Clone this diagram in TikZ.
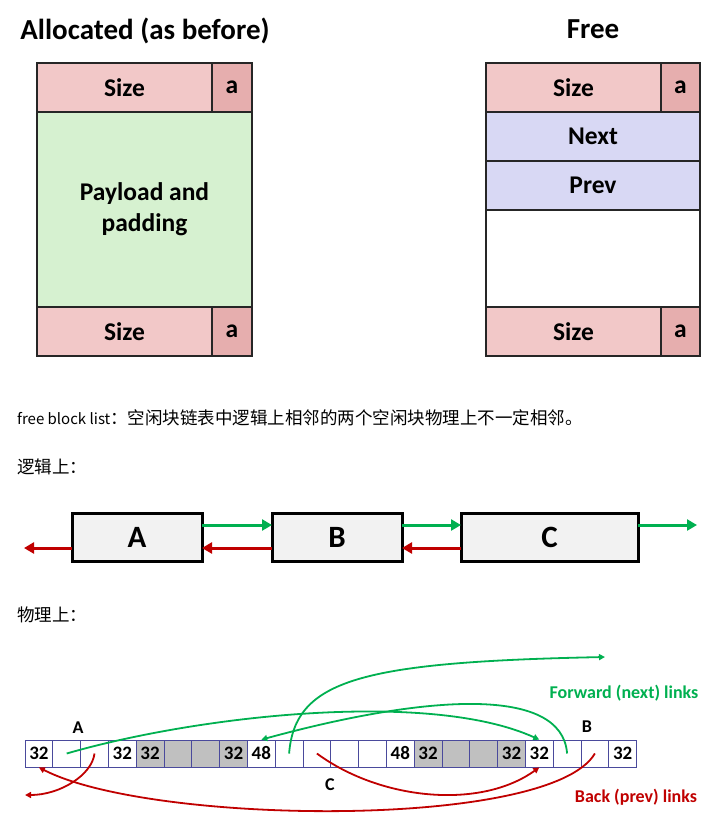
\documentclass[tikz,border=0pt]{standalone}
\usepackage{fontspec}
\setmainfont{Carlito}
\newfontfamily\cjk{Noto Sans CJK SC}
\usepackage{tikz}
\usetikzlibrary{arrows.meta,positioning}
\definecolor{blkline}{HTML}{262626}
\definecolor{sizebg}{HTML}{F2C8C8}
\definecolor{abitbg}{HTML}{E6AEAE}
\definecolor{paybg}{HTML}{D6F1D0}
\definecolor{ptrbg}{HTML}{D8D8F4}
\definecolor{listbg}{HTML}{F2F2F2}
\definecolor{cellline}{HTML}{4A4A9C}
\definecolor{usedbg}{HTML}{C0C0C0}
\definecolor{fwd}{HTML}{00B050}
\definecolor{bck}{HTML}{C00000}
\newcommand{\hanzi}[1]{{\fontsize{17.5}{20}\selectfont #1}}
\tikzset{
  field/.style  = {rectangle, draw=blkline, line width=1.2pt, inner sep=0pt, outer sep=0pt,
                   align=center, font=\fontsize{25.5}{31}\selectfont\bfseries},
  sizef/.style  = {field, fill=sizebg, minimum height=49pt},
  abit/.style   = {field, fill=abitbg, minimum height=49pt},
  ptrf/.style   = {field, fill=ptrbg, minimum height=49pt, minimum width=214pt},
  title/.style  = {font=\fontsize{29}{32}\selectfont\bfseries},
  note/.style   = {anchor=west, font=\cjk\fontsize{15}{19}\selectfont, inner sep=0pt},
  lblock/.style = {rectangle, draw=black, line width=3pt, outer sep=0pt, fill=listbg,
                   minimum height=48pt, font=\fontsize{31}{34}\selectfont\bfseries},
  cell/.style   = {rectangle, draw=cellline, line width=0.7pt, minimum width=27.8pt,
                   minimum height=27pt, inner sep=0pt, font=\fontsize{19}{20}\selectfont\bfseries},
  tag/.style    = {font=\fontsize{18}{20}\selectfont\bfseries},
  nextln/.style = {-{Triangle[length=10pt,width=11pt]}, line width=3pt, draw=fwd},
  prevln/.style = {-{Triangle[length=10pt,width=11pt]}, line width=3pt, draw=bck},
  fwdcurve/.style = {-{Triangle[length=6pt,width=6pt]}, line width=1.8pt, draw=fwd},
  bckcurve/.style = {-{Triangle[length=6pt,width=6pt]}, line width=1.8pt, draw=bck},
}

\begin{document}
\begin{tikzpicture}[x=1pt,y=-1pt]
\useasboundingbox (0,0) rectangle (726,819);

% block formats
\node[title] (alloct) at (145,31) {Allocated (as before)};
\node[sizef, minimum width=175pt, anchor=north west] (sizeA1) at (37,63) {Size};
\node[abit, minimum width=40pt, right=0pt of sizeA1] (aA1) {a};
\node[field, fill=paybg, minimum width=215pt, minimum height=195pt,
      below=0pt of sizeA1.south west, anchor=north west] (pay) {Payload and\\padding};
\node[sizef, minimum width=175pt, below=0pt of pay.south west, anchor=north west] (sizeA2) {Size};
\node[abit, minimum width=40pt, right=0pt of sizeA2] (aA2) {a};

\node[title] (freet) at (593,29) {Free};
\node[sizef, minimum width=175pt, anchor=north west] (sizeF1) at (486,63) {Size};
\node[abit, minimum width=39pt, right=0pt of sizeF1] (aF1) {a};
\node[ptrf, below=0pt of sizeF1.south west, anchor=north west] (nextf) {Next};
\node[ptrf, below=0pt of nextf] (prevf) {Prev};
\node[field, fill=white, minimum width=214pt, minimum height=97pt, below=0pt of prevf] (emptyf) {};
\node[sizef, minimum width=175pt, below=0pt of emptyf.south west, anchor=north west] (sizeF2) {Size};
\node[abit, minimum width=39pt, right=0pt of sizeF2] (aF2) {a};

\node[note] (intro) at (17,418) {free block list\hanzi{：空闲块链表中逻辑上相邻的两个空闲块物理上不一定相邻。}};
\node[note] (logic) at (17,467) {\hanzi{逻辑上：}};
\node[note] (phys) at (17,615) {\hanzi{物理上：}};

% logical order
\node[lblock, minimum width=130pt] (A) at (137,537) {A};
\node[lblock, minimum width=130pt, right=70pt of A] (B) {B};
\node[lblock, minimum width=177pt, right=59pt of B] (C) {C};
\coordinate (nilR) at (697,525);
\coordinate (nilL) at (24,548);

\draw[nextln] ([yshift=12pt]A.east) -- ([yshift=12pt]B.west);
\draw[nextln] ([yshift=12pt]B.east) -- ([yshift=12pt]C.west);
\draw[nextln] ([yshift=12pt]C.east) -- (nilR);
\draw[prevln] ([yshift=-11pt]B.west) -- ([yshift=-11pt]A.east);
\draw[prevln] ([yshift=-11pt]C.west) -- ([yshift=-11pt]B.east);
\draw[prevln] ([yshift=-11pt]A.west) -- (nilL);

% physical order
\foreach \i/\t/\f in {0/32/white, 1/{}/white, 2/{}/white, 3/32/white,
                      4/32/usedbg, 5/{}/usedbg, 6/{}/usedbg, 7/32/usedbg,
                      8/48/white, 9/{}/white, 10/{}/white, 11/{}/white, 12/{}/white, 13/48/white,
                      14/32/usedbg, 15/{}/usedbg, 16/{}/usedbg, 17/32/usedbg,
                      18/32/white, 19/{}/white, 20/{}/white, 21/32/white}
  \node[cell, fill=\f] (c\i) at ({38.9+27.8*\i},753.5) {\t};

\node[tag] (tagA) at (78,728) {A};
\node[tag] (tagB) at (587,727) {B};
\node[tag] (tagC) at (330,785) {C};
\node[tag, text=fwd] (fwdlbl) at (624,693) {Forward (next) links};
\node[tag, text=bck] (bcklbl) at (636,797) {Back (prev) links};

\coordinate (endC) at (605,657);
\coordinate (endA) at (25,795);

\draw[fwdcurve] (c1.center) .. controls (200,715) and (430,690) .. (c18.north);
\draw[fwdcurve] (c19.center) .. controls (562,685) and (425,695) .. (c8.north);
\draw[fwdcurve] (c9.center) .. controls (295,680) and (360,662) .. (endC);
\draw[bckcurve] (c2.center) .. controls (92,775) and (60,795) .. (endA);
\draw[bckcurve] (c10.center) .. controls (380,800) and (480,810) .. (c18.south);
\draw[bckcurve] (c20.center) .. controls (550,830) and (150,825) .. (c0.south);

\end{tikzpicture}
\end{document}
